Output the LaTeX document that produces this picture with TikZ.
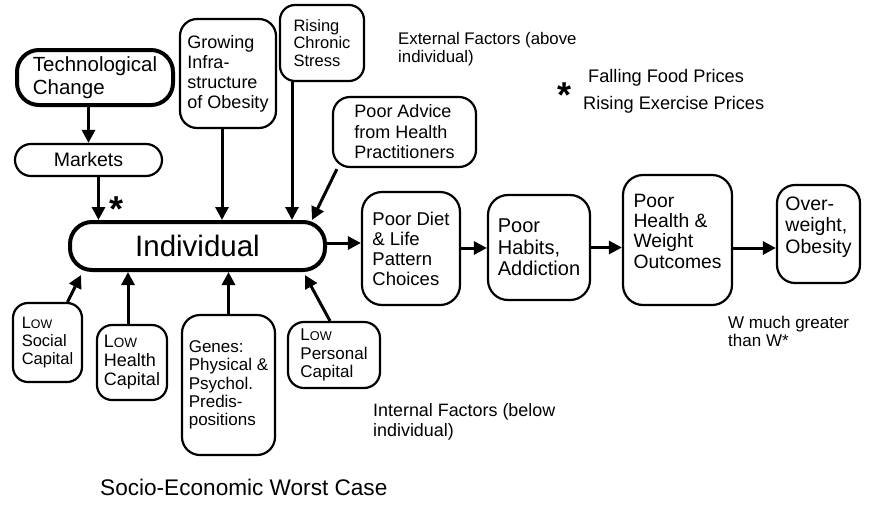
\documentclass[tikz,border=0pt]{standalone}
\usepackage{fontspec}
\usepackage{graphicx}
\setmainfont{Liberation Sans}
\usetikzlibrary{arrows.meta}
\newcommand{\fsz}[2]{\fontsize{#1}{#2}\selectfont}
\newcommand{\lowsc}{L\scalebox{0.75}{OW}}
\begin{document}
\begin{tikzpicture}[x=1pt,y=-1pt,
  box/.style={draw, line width=2.2pt, rounded corners=17pt, inner sep=0pt, align=left},
  thickbox/.style={box, line width=4pt, rounded corners=22pt},
  arr/.style={line width=3pt, -{Triangle[length=13pt,width=13pt]}},
  lbl/.style={inner sep=0pt, align=left},
  starlbl/.style={inner sep=0pt, anchor=base, font=\fsz{36}{40}\bfseries}]
\useasboundingbox (0,0) rectangle (878,504);
\fill[white] (0,0) rectangle (878,504);

% top boxes
\node[thickbox, minimum width=156, minimum height=55, font=\fsz{20.5}{23}] (tech) at (95,77.5) {Technological\\Change};
\node[box, rounded corners=16pt, minimum width=147, minimum height=32, font=\fsz{19.5}{22}] (markets) at (88.5,160) {Markets};
\node[box, minimum width=96, minimum height=109, font=\fsz{18}{20}] (growing) at (228,73.5) {Growing\\Infra-\\structure\\of Obesity};
\node[box, rounded corners=15pt, minimum width=84, minimum height=76, font=\fsz{16.5}{17.5}] (rising) at (322,43) {Rising\\Chronic\\Stress};
\node[box, minimum width=143, minimum height=70, font=\fsz{18}{20.5}] (advice) at (404.5,132) {Poor Advice\\from Health\\Practitioners};

% individual
\node[thickbox, minimum width=255, minimum height=48, font=\fsz{29.5}{31}] (indiv) at (197.5,246) {Individual};

% chain
\node[box, rounded corners=20pt, minimum width=98, minimum height=113, font=\fsz{18.5}{20}] (diet) at (411,248.5) {Poor Diet\\\& Life\\Pattern\\Choices};
\node[box, rounded corners=20pt, minimum width=102, minimum height=105, font=\fsz{20}{21.5}] (habits) at (539,247.5) {Poor\\Habits,\\Addiction};
\node[box, rounded corners=20pt, minimum width=109, minimum height=130, text depth=18pt, font=\fsz{19.3}{20.3}] (health) at (677.5,240) {Poor\\Health \&\\Weight\\Outcomes};
\node[box, rounded corners=18pt, minimum width=83, minimum height=98, text depth=18pt, font=\fsz{19.5}{21.5}] (over) at (818.5,234) {Over-\\weight,\\Obesity};

% bottom boxes
\node[box, rounded corners=15pt, minimum width=69, minimum height=79, font=\fsz{16.5}{18}] (social) at (47.5,342.5) {\lowsc\\Social\\Capital};
\node[box, rounded corners=15pt, minimum width=70, minimum height=75, font=\fsz{18}{19}] (hcap) at (132,362.5) {\lowsc\\Health\\Capital};
\node[box, rounded corners=18pt, minimum width=93, minimum height=140, font=\fsz{17}{18.3}] (genes) at (228.5,385) {Genes:\\Physical \&\\Psychol.\\Predis-\\positions};
\node[box, rounded corners=16pt, minimum width=92, minimum height=66, font=\fsz{17}{18.5}] (personal) at (334,355) {\lowsc\\Personal\\Capital};

% arrows from top
\draw[arr] (markets.north |- tech.south) -- (markets.north);
\draw[arr] ([xshift=10pt]markets.south) -- ([xshift=10pt]markets.south |- indiv.north);
\draw[arr] ([xshift=-6pt]growing.south) -- ([xshift=-6pt]growing.south |- indiv.north);
\draw[arr] ([xshift=-30pt]rising.south) -- ([xshift=-30pt]rising.south |- indiv.north);
\draw[arr] ([xshift=5pt,yshift=-1pt]advice.south west) -- ([xshift=-15pt]indiv.north east);

% chain arrows
\draw[arr] ([yshift=3pt]indiv.east) -- ([yshift=3pt]indiv.east -| diet.west);
\draw[arr] ([yshift=0.5pt]diet.east) -- ([yshift=0.5pt]diet.east -| habits.west);
\draw[arr] (habits.east) -- (habits.east -| health.west);
\draw[arr] ([yshift=-8pt]health.east) -- ([yshift=-8pt]health.east -| over.west);

% bottom arrows
\draw[arr] ([xshift=20pt]social.north) -- ([xshift=13pt,yshift=-3pt]indiv.south west);
\draw[arr] ([xshift=-4pt]hcap.north) -- ([xshift=-4pt]hcap.north |- indiv.south);
\draw[arr] (genes.north) -- (genes.north |- indiv.south);
\draw[arr] ([xshift=-4pt]personal.north) -- ([xshift=-22pt,yshift=-3pt]indiv.south east);

% stars
\node[starlbl] (star1) at (117,221) {*};
\node[starlbl] (star2) at (564,107) {*};

% labels
\node[lbl, anchor=north west, font=\fsz{16.8}{18.5}] (ext) at (398,32) {External Factors (above\\individual)};
\node[lbl, anchor=base west, font=\fsz{18.2}{20}] (fall) at (588,82) {Falling Food Prices};
\node[lbl, anchor=base west, font=\fsz{18.2}{20}] (riseex) at (583,109) {Rising Exercise Prices};
\node[lbl, anchor=north west, font=\fsz{17}{17.5}] (wmuch) at (728,316) {W much greater\\than W*};
\node[lbl, anchor=north west, font=\fsz{17.9}{20}] (internal) at (373,403) {Internal Factors (below\\individual)};
\node[lbl, anchor=base west, font=\fsz{22.6}{24}] (socio) at (100,495) {Socio-Economic Worst Case};
\end{tikzpicture}
\end{document}
